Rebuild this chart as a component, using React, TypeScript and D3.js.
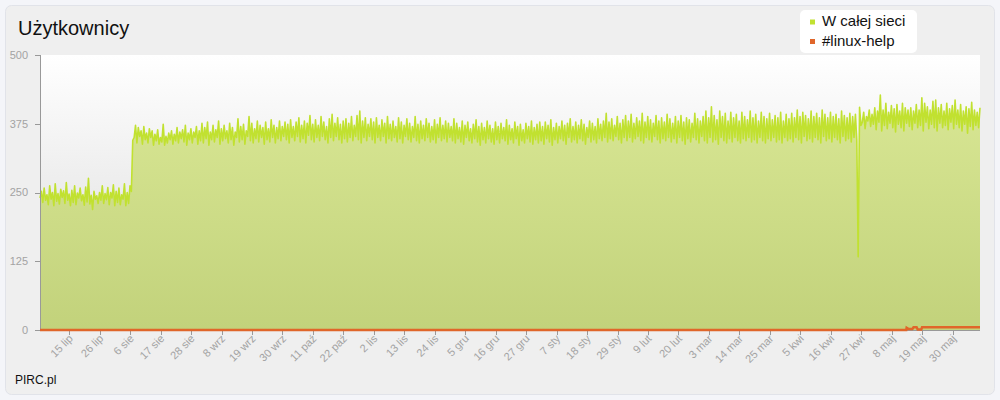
import React from 'react';
import * as d3 from 'd3';

// ---- data: users on the whole network, sampled every 12 hours ----
const startTime = '2012-07-04 10:00';
const stepHours = 12;

const jul = [240,252,232,258,236,246,228,262,238,250,226,266,234,248,229,256,241,253,230,268,
236,247,226,254,232,262,228,249,240,258,235,246,227,260,233,276,229,245,219,252,
238,244,230,250,236,262,230,248,237,259,228,250,240,264,226,252];
const aug = [232,258,228,246,238,266,226,250,230,262,252,345,350,372,340,368,352,362,338,370,
346,358,340,366,350,362,336,356,344,364,338,350,342,374,336,352,340,358,346,362,
338,356,344,368,340,360,348,364,342,372,336,358,346,366,340,360,350,370,338,362,
344,376];
const sep = [340,368,348,378,336,360,346,372,342,364,350,380,338,366,344,372,348,362,340,376,
346,368,336,360,350,384,342,370,346,374,338,362,352,388,344,376,340,366,348,380,
342,372,350,368,338,378,346,366,342,382,350,372,340,368,348,380,344,370,352,378];
const oct = [346,374,340,382,350,370,344,378,352,386,342,372,348,380,340,376,354,390,346,374,
342,382,350,372,344,388,352,378,346,370,340,384,350,392,344,376,352,386,346,374,
340,380,348,384,342,376,350,388,344,372,352,390,346,398,340,380,350,386,344,374,
352,384];
const nov = [346,378,340,386,350,372,344,382,352,376,340,388,348,374,344,380,350,370,342,386,
348,378,340,372,352,384,346,376,342,370,350,388,344,374,340,380,348,372,344,384,
350,376,342,370,346,382,340,374,350,386,344,372,348,380,342,376,350,370,344,384];
const dec = [340,376,348,368,342,380,338,372,350,378,344,366,340,374,348,382,342,370,336,376,
346,368,340,380,348,372,342,366,338,378,346,370,340,376,348,368,344,382,338,372,
346,366,340,378,348,370,336,374,344,364,340,376,348,370,342,380,338,368,346,374,
340,378];
const jan = [344,370,338,378,348,372,342,382,336,368,346,376,340,370,348,380,344,372,338,376,
350,384,342,370,346,378,340,372,348,382,344,374,338,368,350,380,342,376,346,370,
340,384,348,374,344,380,350,394,342,378,348,384,344,372,352,388,346,376,340,382,
350,390];
const feb = [344,380,350,392,342,376,348,386,352,380,344,394,340,378,350,388,346,382,342,376,
352,390,346,380,340,386,348,378,344,392,350,384,342,376,348,388,340,380,350,390,
344,378,338,386,348,382,342,376,350,394,346,384,340,380,352,388];
const mar = [344,398,340,386,350,406,342,390,346,382,338,398,350,388,344,394,340,380,348,396,
342,386,350,392,344,380,340,396,348,388,344,382,350,398,342,386,346,392,340,380,
350,396,344,388,340,384,348,394,344,382,350,390,342,386,346,396,340,380,350,392,
344,384];
const apr = [348,394,342,386,350,400,346,388,340,396,352,390,344,384,348,398,342,388,350,394,
346,386,340,400,352,392,344,386,348,396,342,388,350,392,346,384,340,398,352,390,
344,386,348,394,342,388,350,392,346,133,405,372,378,396,366,388,380,400,370,392];
const may = [374,404,364,398,378,427,362,400,372,412,366,396,376,408,368,402,360,410,374,398,
368,412,362,404,376,400,370,404,364,398,376,410,368,400,372,422,362,412,378,406,
366,400,374,416,368,418,362,404,376,410,368,398,372,412,364,402,378,408,366,418,
374,400];
const jun = [368,410,362,398,374,406,358,402,370,414,364,400,372,396,368,404];

// ---- data: #linux-help channel ----
const helpTimes = ['2012-07-04 10:00','2013-05-13 07:00','2013-05-13 10:00','2013-05-14 00:30',
  '2013-05-15 12:00','2013-05-15 22:00','2013-05-17 00:30','2013-05-17 10:00','2013-05-18 17:00',
  '2013-05-19 00:00','2013-06-08 22:00'];
const helpValues = [0,0,4,2,2,5,5,1,1,5,5];

const seriesNames = ['W całej sieci', '#linux-help'];
const seriesColors = ['#c1e130', '#e0662a'];
const yTicks = [0, 125, 250, 375, 500];
const plMonths = ['sty','lut','mar','kwi','maj','cze','lip','sie','wrz','paź','lis','gru'];
const firstTick = '2012-07-15 00:00';
const tickCount = 30;
const tickStepDays = 11;

const FONT = '"Liberation Sans", Arial, Helvetica, sans-serif';

export default function App() {
  const parse = d3.timeParse('%Y-%m-%d %H:%M');
  const users = [...jul, ...aug, ...sep, ...oct, ...nov, ...dec, ...jan, ...feb, ...mar, ...apr, ...may, ...jun];
  const t0 = parse(startTime) as Date;
  const userData = users.map((v, i) => ({ t: d3.timeHour.offset(t0, i * stepHours), v }));
  const helpData = helpTimes.map((s, i) => ({ t: parse(s) as Date, v: helpValues[i] }));

  const left = 40, right = 980, top = 55, bottom = 330;
  const x = d3.scaleTime().domain(d3.extent(userData, d => d.t) as [Date, Date]).range([left, right]);
  const y = d3.scaleLinear().domain([0, 500]).range([bottom, top]);

  const area = d3.area<{ t: Date; v: number }>().x(d => x(d.t)).y0(y(0)).y1(d => y(d.v));
  const line = d3.line<{ t: Date; v: number }>().x(d => x(d.t)).y(d => y(d.v));

  const ft = parse(firstTick) as Date;
  const xTicks = d3.range(tickCount).map(i => d3.timeDay.offset(ft, i * tickStepDays));
  const fmt = (d: Date) => `${d.getDate()} ${plMonths[d.getMonth()]}`;

  return (
    <svg width={1000} height={400} style={{ position: 'absolute', left: 0, top: 0, display: 'block' }} fontFamily={FONT}>
      <defs>
        <linearGradient id="plotBg" x1="0" y1={top} x2="0" y2={bottom} gradientUnits="userSpaceOnUse">
          <stop offset="0" stopColor="#ffffff" />
          <stop offset="1" stopColor="#d9d9d9" />
        </linearGradient>
        <linearGradient id="areaFill" x1="0" y1={top} x2="0" y2={bottom} gradientUnits="userSpaceOnUse">
          <stop offset="0" stopColor="#dcea98" />
          <stop offset="1" stopColor="#c2d27b" />
        </linearGradient>
      </defs>
      <rect x={0} y={0} width={1000} height={400} fill="#f4f5f9" />
      <rect x={5.5} y={5.5} width={989} height={389} rx={6} fill="#efefef" stroke="#e1e3e9" />
      <text x={18} y={35} fontSize={20} fill="#111">Użytkownicy</text>

      <rect x={left} y={top} width={right - left} height={bottom - top} fill="url(#plotBg)" />
      <path d={area(userData) || ''} fill="url(#areaFill)" />
      <path d={line(userData) || ''} fill="none" stroke={seriesColors[0]} strokeWidth={1.6} strokeLinejoin="round" />

      {/* axes */}
      <line x1={left + 0.5} x2={left + 0.5} y1={top} y2={bottom} stroke="#999" />
      <line x1={left} x2={right} y1={bottom + 0.5} y2={bottom + 0.5} stroke="#999" />
      {yTicks.map(v => (
        <g key={v}>
          <line x1={left - 5} x2={left} y1={Math.round(y(v)) + 0.5} y2={Math.round(y(v)) + 0.5} stroke="#999" />
          <text x={28} y={y(v)} dy="0.35em" textAnchor="end" fontSize={11} fill="#a3a3a3">{v}</text>
        </g>
      ))}
      {xTicks.map((d, i) => (
        <g key={i}>
          <line x1={Math.round(x(d)) + 0.5} x2={Math.round(x(d)) + 0.5} y1={bottom} y2={bottom + 5} stroke="#999" />
          <text transform={`translate(${x(d)},${bottom + 5}) rotate(-45)`} textAnchor="end" dy="0.55em" fontSize={11} fill="#a3a3a3">{fmt(d)}</text>
        </g>
      ))}

      <path d={line(helpData) || ''} fill="none" stroke={seriesColors[1]} strokeWidth={2.5} />

      {/* legend */}
      <rect x={800} y={10} width={117} height={43} rx={5} fill="#ffffff" />
      {seriesNames.map((n, i) => (
        <g key={n}>
          <rect x={810} y={19.5 + i * 19.5} width={5} height={5} fill={seriesColors[i]} />
          <text x={822} y={26 + i * 19.5} fontSize={15} fill="#111">{n}</text>
        </g>
      ))}

      <text x={15} y={384} fontSize={12} fill="#111">PIRC.pl</text>
    </svg>
  );
}
